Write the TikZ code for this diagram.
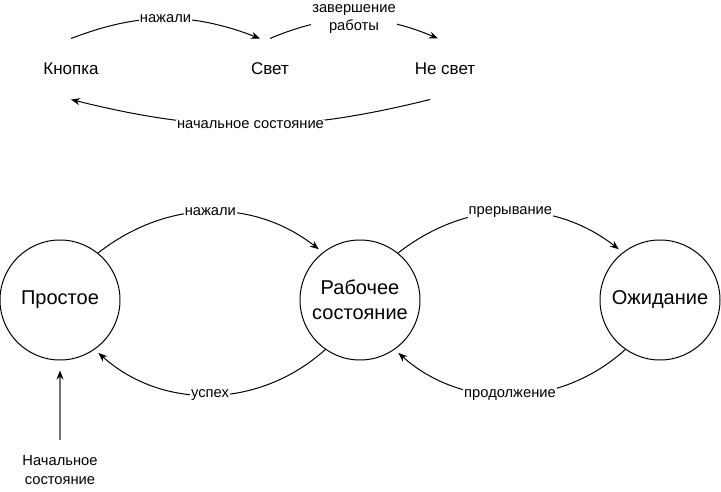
\documentclass[tikz,border=0pt]{standalone}
\usepackage{fontspec}
\setmainfont{Liberation Sans}
\usetikzlibrary{arrows.meta}

\begin{document}
\begin{tikzpicture}[x=1pt, y=1pt, line width=1pt,
    state/.style={draw, circle, minimum size=120pt, inner sep=0pt, align=center,
        font=\fontsize{20}{25}\selectfont},
    word/.style={minimum height=60pt, inner sep=0pt, align=center,
        font=\fontsize{17}{20}\selectfont},
    edgelabel/.style={fill=white, inner sep=1pt, align=center,
        font=\fontsize{14.7}{18}\selectfont},
    trans/.style={-{Stealth[length=9pt, width=7pt, inset=3pt]}},
    initarrow/.style={-{Stealth[length=9pt, width=7pt, inset=3pt, black]}, line width=2pt, black!55}]
    % Globals
    \pgfmathsetmacro{\rowTop}{422}
    \pgfmathsetmacro{\rowBottom}{191}
    \pgfmathsetmacro{\gapX}{300}
    \useasboundingbox (0,0) rectangle (721,491);

    % Upper chain
    \node[word] (KNOPKA) at (71, \rowTop) {Кнопка};
    \node[word] (SVET) at (270, \rowTop) {Свет};
    \node[word] (NESVET) at (445, \rowTop) {Не свет};

    \draw[trans] (KNOPKA.north) to[out=21, in=159]
        node[midway, edgelabel]{нажали} ([xshift=-10]SVET.north);
    \draw[trans] (SVET.north) to[out=23, in=157]
        node[midway, edgelabel]{завершение\\работы} ([xshift=-7]NESVET.north);
    \draw[trans] ([xshift=-15]NESVET.south) to[out=194, in=-14]
        node[midway, edgelabel]{начальное состояние} (KNOPKA.south);

    % States
    \node[state] (PROSTOE) at (60, \rowBottom) {Простое};
    \pgfmathsetmacro{\x}{60+\gapX}
    \node[state] (RABOCHEE) at (\x, \rowBottom) {Рабочее\\состояние};
    \pgfmathsetmacro{\x}{\x+\gapX}
    \node[state] (OZHIDANIE) at (\x, \rowBottom) {Ожидание};

    \draw[trans, shorten >=5pt] (PROSTOE.51) to[out=38, in=142]
        node[midway, edgelabel]{нажали} (RABOCHEE.128);
    \draw[trans, shorten >=5pt] (RABOCHEE.51) to[out=38, in=142]
        node[midway, edgelabel]{прерывание} (OZHIDANIE.128);
    \draw[trans, shorten >=5pt] (RABOCHEE.235) to[out=222, in=-42]
        node[midway, edgelabel]{успех} (PROSTOE.305);
    \draw[trans, shorten >=5pt] (OZHIDANIE.235) to[out=222, in=-42]
        node[midway, edgelabel]{продолжение} (RABOCHEE.305);

    % Start
    \node[word, font=\fontsize{14.7}{19}\selectfont] (INIT) at (60, 21) {Начальное\\состояние};
    \draw[initarrow] (INIT.north) -- ([yshift=-10]PROSTOE.south);

\end{tikzpicture}
\end{document}
